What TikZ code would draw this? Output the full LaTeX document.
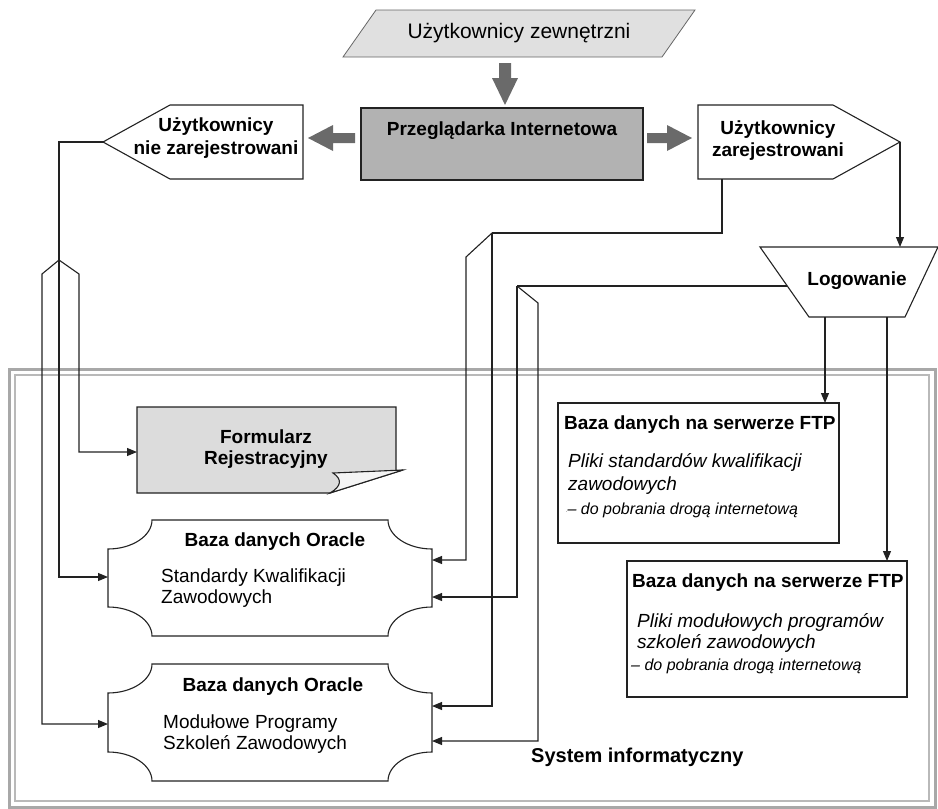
\documentclass[tikz,border=0pt]{standalone}
\usepackage{fontspec}
\setmainfont{Liberation Sans}
\usetikzlibrary{arrows.meta}
\definecolor{lgray}{HTML}{E0E0E0}
\definecolor{mgray}{HTML}{B2B2B2}
\definecolor{fgray}{HTML}{DCDCDC}
\definecolor{agray}{HTML}{6A6A6A}
\definecolor{bgray}{HTML}{A8A8A8}
\definecolor{ink}{HTML}{222222}
\begin{document}
\begin{tikzpicture}[x=1pt,y=-1pt,
  wire/.style={draw=ink,line width=1.1pt},
  arr/.style={wire,-{Triangle[length=10pt,width=8pt]}},
  outline/.style={draw=ink,line width=1.1pt},
  thin outline/.style={draw=black!60,line width=0.8pt},
  grayarrow/.style={fill=agray,draw=none},
  ttl/.style={inner sep=0pt,font=\fontsize{19}{22}\selectfont\bfseries},
  txt/.style={inner sep=0pt,font=\fontsize{19}{22}\selectfont},
  itl/.style={inner sep=0pt,font=\fontsize{19}{22}\selectfont\itshape},
  sml/.style={inner sep=0pt,font=\fontsize{16}{19}\selectfont\itshape},
]
\useasboundingbox (0,0) rectangle (938,809);
\clip (0,0) rectangle (938,809);

% ---------- system border ----------
\draw[bgray,line width=3pt] (9,369) rectangle (935,807);
\draw[bgray!80,line width=2pt] (15,375) rectangle (929,801);
\node[ttl,anchor=mid west,font=\fontsize{20}{24}\selectfont\bfseries] (sys) at (531,760) {System informatyczny};

% ---------- external users ----------
\draw[thin outline,fill=lgray] (376,10) -- (695,10) -- (662,57) -- (343,57) -- cycle;
\node[txt,font=\fontsize{21}{25}\selectfont] (ext) at (519,33) {Użytkownicy zewnętrzni};

% ---------- browser ----------
\draw[outline,fill=mgray] (361,108) rectangle (643,180);
\node[ttl,anchor=mid] (browser) at (502,133) {Przeglądarka Internetowa};

% gray block arrows
\fill[grayarrow] (499,63) -- (511,63) -- (511,78) -- (518,78) -- (505,105) -- (492,78) -- (499,78) -- cycle;
\fill[grayarrow] (647,133) -- (667,133) -- (667,125) -- (692,138) -- (667,151) -- (667,143) -- (647,143) -- cycle;
\fill[grayarrow] (355,133) -- (333,133) -- (333,125) -- (308,138) -- (333,151) -- (333,143) -- (355,143) -- cycle;

% ---------- unregistered users ----------
\draw[outline] (170,105) -- (303,105) -- (303,179) -- (170,179) -- (103,142) -- cycle;
\coordinate (nzTip) at (103,142);
\node[ttl] (nz1) at (216,127) {Użytkownicy};
\node[ttl] (nz2) at (216,150) {nie zarejestrowani};

% ---------- registered users ----------
\draw[outline] (698,105) -- (833,105) -- (900,142) -- (833,179) -- (698,179) -- cycle;
\coordinate (zTip) at (900,142);
\coordinate (zBot) at (722,179);
\node[ttl] (z1) at (778,130) {Użytkownicy};
\node[ttl] (z2) at (778,152) {zarejestrowani};

% ---------- login ----------
\draw[outline] (760,247) -- (938,247) -- (905,317) -- (809,317) -- cycle;
\node[ttl] (login) at (857,281) {Logowanie};
\coordinate (logTop) at (900,247);
\coordinate (logLeft) at (787,286);
\coordinate (logB1) at (825,317);
\coordinate (logB2) at (887,317);

% ---------- registration form ----------
\draw[outline,fill=fgray] (137,407) -- (396,407) -- (396,471) -- (403,470) -- (330,493) -- (137,493) -- cycle;
\draw[outline,fill=white!70!fgray] (333,473) -- (403,470) -- (330,493) .. controls (342,486) and (342,479) .. (333,473) -- cycle;
\node[ttl] (form1) at (266,437) {Formularz};
\node[ttl] (form2) at (266,460) {Rejestracyjny};
\coordinate (formIn) at (137,452);

% ---------- Oracle boxes ----------
\newcommand\oraclebox[4]{%
  \draw[outline] ({#1+44},#2) -- ({#3-44},#2)
    .. controls ({#3-44},{#2+16}) and ({#3-24},{#2+29}) .. (#3,{#2+29})
    -- (#3,{#4-29})
    .. controls ({#3-24},{#4-29}) and ({#3-44},{#4-16}) .. ({#3-44},#4)
    -- ({#1+44},#4)
    .. controls ({#1+44},{#4-16}) and ({#1+24},{#4-29}) .. (#1,{#4-29})
    -- (#1,{#2+29})
    .. controls ({#1+24},{#2+29}) and ({#1+44},{#2+16}) .. ({#1+44},#2) -- cycle;}
\oraclebox{108}{520}{432}{636}
\oraclebox{108}{664}{432}{781}
\node[ttl] (o1t) at (275,542) {Baza danych Oracle};
\node[txt,anchor=mid west] (o1a) at (161,580) {Standardy Kwalifikacji};
\node[txt,anchor=mid west] (o1b) at (161,601) {Zawodowych};
\node[ttl] (o2t) at (273,687) {Baza danych Oracle};
\node[txt,anchor=mid west] (o2a) at (163,726) {Modułowe Programy};
\node[txt,anchor=mid west] (o2b) at (163,747) {Szkoleń Zawodowych};

% ---------- FTP boxes ----------
\draw[outline,line width=1.5pt] (558,403) rectangle (839,543);
\node[ttl,anchor=mid west] (f1t) at (564,427) {Baza danych na serwerze FTP};
\node[itl,anchor=mid west] (f1a) at (568,465) {Pliki standardów kwalifikacji};
\node[itl,anchor=mid west] (f1b) at (568,488) {zawodowych};
\node[sml,anchor=mid west] (f1c) at (566,512) {\raisebox{0.2ex}{\tiny .}– do pobrania drogą internetową};
\draw[outline,line width=1.5pt] (627,561) rectangle (907,697);
\node[ttl,anchor=mid west] (f2t) at (632,585) {Baza danych na serwerze FTP};
\node[itl,anchor=mid west] (f2a) at (637,625) {Pliki modułowych programów};
\node[itl,anchor=mid west] (f2b) at (637,646) {szkoleń zawodowych};
\node[sml,anchor=mid west] (f2c) at (631,668) {– do pobrania drogą internetową};

% ---------- connectors ----------
% left fork from unregistered users
\draw[wire] (nzTip) -- (59,142) -- (59,260) coordinate (forkL);
\draw[arr] (forkL) -- (79,274) -- (79,452) -- (formIn);
\draw[arr] (forkL) -- (59,577) -- (108,577);
\draw[arr] (forkL) -- (42,274) -- (42,724) -- (108,724);

% fork from registered users
\draw[wire] (zBot) -- (722,233) -- (492,233) coordinate (forkR1);
\draw[arr] (forkR1) -- (492,706) -- (432,706);
\draw[arr] (forkR1) -- (466,257) -- (466,560) -- (432,560);

% fork from login
\draw[wire] (logLeft) -- (517,286) coordinate (forkR2);
\draw[arr] (forkR2) -- (517,597) -- (432,597);
\draw[arr] (forkR2) -- (538,303) -- (538,741) -- (432,741);

% registered -> login, login -> FTP
\draw[arr] (zTip) -- (logTop);
\draw[arr] (logB1) -- (825,403);
\draw[arr] (logB2) -- (887,561);
\end{tikzpicture}
\end{document}
